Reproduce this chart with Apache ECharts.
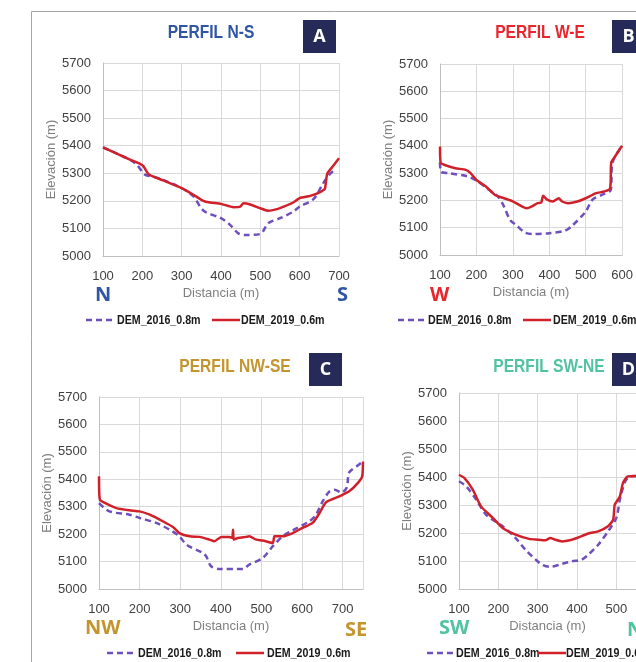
<!DOCTYPE html>
<html>
<head>
<meta charset="utf-8">
<script src="https://cdn.jsdelivr.net/npm/echarts@6/dist/echarts.min.js"></script>
<style>
  html, body { margin: 0; padding: 0; background: #fff; overflow: hidden; }
  #chart { width: 636px; height: 662px; }
</style>
</head>
<body>
<div id="chart"></div>
<script>
// perfiles topográficos: distancia (m) vs elevación (m)
const seriesNames = ['DEM_2016_0.8m', 'DEM_2019_0.6m'];
const panelTitles = ['PERFIL N-S', 'PERFIL W-E', 'PERFIL NW-SE', 'PERFIL SW-NE'];
const panelLetters = ['A', 'B', 'C', 'D'];
const dirStart = ['N', 'W', 'NW', 'SW'];
const dirEnd = ['S', 'E', 'SE', 'NE'];
const xMax = [700, 600, 750, 550];

// N-S
const ns2016 = [[100,5394],[169,5349],[186,5331],[207,5295],[228,5288],[253,5276],[300,5246],[330,5216],[347,5179],[359,5161],[400,5137],[423,5113],[444,5082],[461,5076],[500,5080],[520,5119],[550,5137],[584,5161],[600,5179],[635,5206],[659,5262],[677,5298],[690,5313]];
const ns2019 = [[100,5394],[135,5371],[170,5349],[193,5335],[203,5325],[215,5298],[228,5288],[253,5274],[300,5246],[330,5222],[355,5200],[372,5194],[400,5189],[432,5177],[449,5179],[457,5191],[474,5187],[500,5173],[520,5164],[542,5170],[559,5179],[584,5194],[600,5210],[627,5218],[652,5232],[664,5244],[670,5298],[686,5328],[700,5355]];
// W-E
const we2016 = [[100,5340],[103,5305],[125,5300],[175,5288],[200,5273],[234,5239],[259,5214],[276,5177],[292,5129],[309,5110],[334,5082],[359,5077],[400,5080],[443,5089],[460,5104],[500,5159],[518,5202],[544,5220],[569,5239],[572,5330],[580,5360],[592,5385],[600,5400]];
const we2019 = [[100,5398],[102,5337],[113,5330],[142,5318],[171,5312],[184,5300],[200,5275],[226,5251],[251,5220],[276,5208],[301,5196],[326,5177],[338,5171],[351,5177],[368,5190],[378,5192],[383,5217],[393,5204],[410,5196],[426,5208],[435,5196],[451,5190],[477,5196],[500,5208],[527,5226],[552,5233],[567,5245],[570,5340],[580,5360],[592,5385],[600,5400]];
// NW-SE
const nwse2016 = [[100,5313],[126,5283],[175,5271],[200,5259],[241,5241],[274,5216],[298,5192],[315,5162],[356,5131],[364,5119],[376,5083],[397,5073],[454,5073],[470,5089],[503,5113],[528,5156],[552,5192],[577,5214],[618,5247],[634,5270],[651,5320],[667,5355],[680,5362],[697,5352],[710,5370],[716,5425],[737,5450],[750,5465]];
const nwse2019 = [[100,5411],[102,5326],[118,5311],[143,5295],[175,5287],[200,5283],[225,5271],[257,5247],[282,5226],[298,5204],[323,5192],[348,5190],[372,5180],[384,5174],[401,5190],[421,5190],[428,5186],[430,5216],[432,5180],[442,5186],[462,5190],[470,5192],[487,5180],[503,5177],[528,5168],[532,5192],[552,5192],[577,5204],[600,5222],[626,5241],[643,5277],[659,5316],[692,5338],[716,5356],[737,5386],[748,5411],[750,5465]];
// SW-NE
const swne2016 = [[100,5385],[118,5367],[144,5319],[169,5265],[211,5224],[244,5182],[269,5140],[295,5105],[311,5087],[332,5079],[362,5090],[387,5099],[412,5105],[429,5123],[454,5158],[479,5206],[500,5254],[509,5319],[521,5379],[534,5402],[550,5404]];
const swne2019 = [[100,5408],[114,5396],[135,5355],[156,5295],[186,5254],[211,5218],[244,5194],[278,5179],[300,5176],[320,5174],[332,5182],[345,5176],[362,5170],[387,5176],[400,5182],[429,5198],[454,5206],[479,5224],[492,5248],[496,5301],[509,5331],[517,5379],[529,5402],[550,5404]];

const data2016 = [ns2016, we2016, nwse2016, swne2016];
const data2019 = [ns2019, we2019, nwse2019, swne2019];

const sans = "'Liberation Sans', Arial, sans-serif";
const geo = "'Open Sans', sans-serif";
const titleColors = ['#2f55a4', '#e8262d', '#c4952f', '#52c3a0'];
const purple = '#6e4fbb';
const red = '#d0202a';
const condensed = 0.82;

// layout of each panel (pixels)
const grids = [
  {left: 103, top: 63, width: 236, height: 193},
  {left: 440, top: 64, width: 199, height: 191},
  {left: 99, top: 397, width: 264, height: 192},
  {left: 459, top: 393, width: 179, height: 196}
];
const titlePos = [[211, 33], [540, 33], [235, 367], [549, 367]];
const boxPos = [[303, 20], [612, 20], [309, 353], [612, 353]];
const nameGaps = [43, 40, 37, 36];
const dirPos = [[[95, 295], [337, 295]], [[430, 295], [640, 295]], [[85, 628], [345, 630]], [[439, 628], [627, 630]]];
// dashed start, text1, red start, text2, y
const legendPos = [[86, 117, 212, 241, 320], [398, 428, 523, 553, 320], [107, 138, 236, 267, 653], [427, 456, 538, 566, 653]];

let chart = echarts.init(document.getElementById('chart'));

let xAxes = [], yAxes = [], series = [], graphics = [];

graphics.push({
  type: 'rect', shape: {x: 31.5, y: 11.5, width: 800, height: 800},
  style: {fill: 'none', stroke: '#a6a6a6', lineWidth: 1}, silent: true
});

function txt(x, y, text, color, font, align, scale) {
  return {
    type: 'text', x: x, y: y, scaleX: scale || 1,
    style: {text: text, fill: color, font: font, textAlign: align, textVerticalAlign: 'middle'}
  };
}

for (let i = 0; i < 4; i++) {
  xAxes.push({
    gridIndex: i, type: 'value', min: 100, max: xMax[i], interval: 100,
    name: 'Distancia (m)', nameLocation: 'middle', nameGap: 31,
    nameTextStyle: {color: '#7f7f7f', fontFamily: sans, fontSize: 13},
    axisLine: {show: true, lineStyle: {color: '#bfbfbf'}},
    axisTick: {show: false},
    axisLabel: {color: '#404040', fontFamily: sans, fontSize: 13, margin: 14,
      showMaxLabel: xMax[i] % 100 === 0, formatter: v => String(v)},
    splitLine: {show: true, lineStyle: {color: '#d9d9d9'}}
  });
  yAxes.push({
    gridIndex: i, type: 'value', min: 5000, max: 5700, interval: 100,
    name: 'Elevación (m)', nameLocation: 'middle', nameGap: nameGaps[i],
    nameTextStyle: {color: '#7f7f7f', fontFamily: sans, fontSize: 13},
    axisLine: {show: true, lineStyle: {color: '#bfbfbf'}},
    axisTick: {show: false},
    axisLabel: {color: '#404040', fontFamily: sans, fontSize: 13, margin: 12, formatter: v => String(v)},
    splitLine: {show: true, lineStyle: {color: '#d9d9d9'}}
  });
  series.push({
    name: seriesNames[0], type: 'line', xAxisIndex: i, yAxisIndex: i,
    data: data2016[i], symbol: 'none', smooth: 0.3,
    lineStyle: {color: purple, width: 2.5, type: [6, 4]}, itemStyle: {color: purple}
  });
  series.push({
    name: seriesNames[1], type: 'line', xAxisIndex: i, yAxisIndex: i,
    data: data2019[i], symbol: 'none', smooth: 0.2,
    lineStyle: {color: red, width: 2.5}, itemStyle: {color: red}
  });

  // legend
  let lp = legendPos[i];
  graphics.push({
    type: 'line', shape: {x1: lp[0], y1: lp[4], x2: lp[0] + 28, y2: lp[4]},
    style: {stroke: purple, lineWidth: 2.5, lineDash: [6, 4]}
  });
  graphics.push(txt(lp[1], lp[4], seriesNames[0], '#1a1a1a', 'bold 13px ' + sans, 'left', condensed));
  graphics.push({
    type: 'line', shape: {x1: lp[2], y1: lp[4], x2: lp[2] + 28, y2: lp[4]},
    style: {stroke: red, lineWidth: 2.5}
  });
  graphics.push(txt(lp[3], lp[4], seriesNames[1], '#1a1a1a', 'bold 13px ' + sans, 'left', condensed));

  // title
  graphics.push(txt(titlePos[i][0], titlePos[i][1], panelTitles[i], titleColors[i], 'bold 19px ' + sans, 'center', condensed));
  // letter box
  graphics.push({
    type: 'rect', shape: {x: boxPos[i][0], y: boxPos[i][1], width: 33, height: 33},
    style: {fill: '#262a58'}
  });
  graphics.push(txt(boxPos[i][0] + 16.5, boxPos[i][1] + 17, panelLetters[i], '#fff', 'bold 18px ' + geo, 'center'));
  // direction labels
  graphics.push(txt(dirPos[i][0][0], dirPos[i][0][1], dirStart[i], titleColors[i], 'bold 20px ' + geo, 'left'));
  graphics.push(txt(dirPos[i][1][0], dirPos[i][1][1], dirEnd[i], titleColors[i], 'bold 20px ' + geo, 'left'));
}

chart.setOption({
  backgroundColor: '#fff',
  animation: false,
  grid: grids,
  xAxis: xAxes,
  yAxis: yAxes,
  series: series,
  graphic: graphics
});
</script>
</body>
</html>
